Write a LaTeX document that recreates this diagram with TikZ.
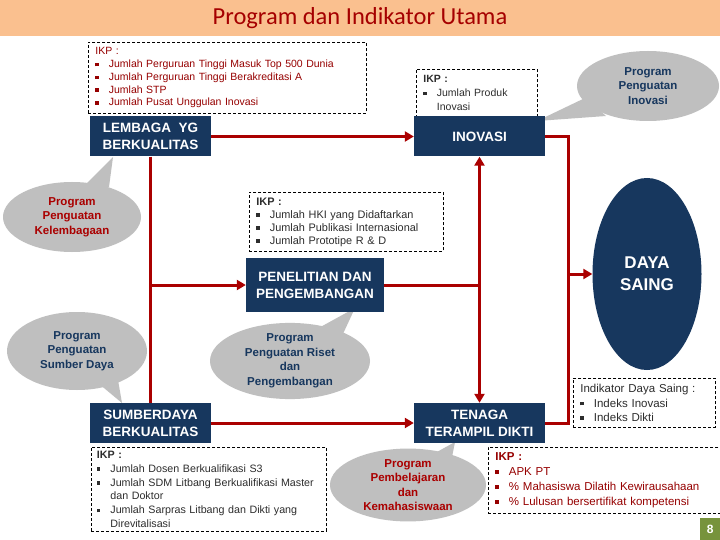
\documentclass[tikz,border=0pt]{standalone}
\usepackage{fontspec}
\setmainfont{Liberation Sans}
\newfontfamily\titlefont{Carlito}
\usetikzlibrary{shapes.geometric,arrows.meta,calc}
\definecolor{navy}{RGB}{23,55,94}
\definecolor{linered}{RGB}{170,0,0}
\definecolor{txtred}{RGB}{150,0,0}
\definecolor{callred}{RGB}{170,0,0}
\definecolor{calloutgray}{RGB}{191,191,191}
\definecolor{peach}{RGB}{250,192,143}
\definecolor{titlered}{RGB}{165,0,0}
\definecolor{txtgray}{RGB}{45,45,45}
\definecolor{pagegreen}{RGB}{119,147,60}
\newcommand\sqb{\makebox[13.5pt][l]{\raisebox{0.25ex}{\rule{0.32em}{0.32em}}}}
\newcommand\hangin{\hspace*{13.5pt}}
\begin{document}
\begin{tikzpicture}[x=1pt,y=-1pt,
  mainbox/.style={rectangle, fill=navy, text=white, font=\bfseries\fontsize{13.5}{17}\selectfont, align=center, inner sep=0pt},
  ikp/.style={draw=black, dash pattern=on 3pt off 2pt, line width=0.8pt, rectangle, anchor=north west, inner xsep=7pt, inner ysep=1pt, align=left},
  conn/.style={draw=linered, line width=3pt, line join=miter},
  arr/.style={conn, -{Triangle[length=9pt,width=10pt]}},
  callout/.style={ellipse, fill=calloutgray, inner sep=0pt, align=center, font=\bfseries\fontsize{11.5}{14.5}\selectfont},
  tail/.style={fill=calloutgray}
]
\useasboundingbox (0,0) rectangle (720,540);
\fill[white] (0,0) rectangle (720,540);

% title bar
\node[fill=peach, minimum width=720pt, minimum height=36pt, anchor=north west, inner sep=0pt] (bar) at (0,0) {};
\node[font=\titlefont\fontsize{24.5}{28}\selectfont, text=titlered] (title) at (360,18) {Program dan Indikator Utama};

% callouts (tails first)
\fill[tail] (113,157) -- (83,187) -- (109,187) -- cycle;
\node[callout, text=callred, minimum width=138pt, minimum height=70pt] (cK) at (72,217) {Program\\Penguatan\\Kelembagaan};

\fill[tail] (537,121) -- (585,98) -- (606,116) -- cycle;
\node[callout, text=navy, minimum width=142pt, minimum height=70pt] (cI) at (648,86) {Program\\Penguatan\\Inovasi};

\fill[tail] (122,403) -- (98,383) -- (118,380) -- cycle;
\node[callout, text=navy, minimum width=140pt, minimum height=78pt] (cS) at (77,351) {Program\\Penguatan\\Sumber Daya};

\fill[tail] (355,308) -- (315,330) -- (342,336) -- cycle;
\node[callout, text=navy, minimum width=160pt, minimum height=72pt] (cR) at (290,361) {Program\\Penguatan Riset\\dan\\Pengembangan};

\fill[tail] (455,442) -- (426,458) -- (451,462) -- cycle;
\node[callout, text=callred, minimum width=156pt, minimum height=72pt] (cP) at (408,485) {Program\\Pembelajaran\\dan\\Kemahasiswaan};

% IKP boxes
\node[ikp, text=txtred, text width=264pt, minimum height=71pt, font=\fontsize{10.5}{12.75}\selectfont] (k1) at (88,42)
 {IKP :\\\sqb Jumlah Perguruan Tinggi Masuk Top 500 Dunia\\\sqb Jumlah Perguruan Tinggi Berakreditasi A\\\sqb Jumlah STP\\\sqb Jumlah Pusat Unggulan Inovasi};

\node[ikp, text=txtgray, text width=107pt, minimum height=47pt, font=\fontsize{10.5}{14}\selectfont] (k2) at (416,69)
 {\textbf{IKP :}\\\sqb Jumlah Produk\\\hangin Inovasi};

\node[ikp, text=txtgray, text width=180pt, minimum height=59pt, font=\fontsize{10.9}{13}\selectfont] (k3) at (249,192)
 {\textbf{IKP :}\\\sqb Jumlah HKI yang Didaftarkan\\\sqb Jumlah Publikasi Internasional\\\sqb Jumlah Prototipe R \& D};

\node[ikp, text=txtgray, inner xsep=5.5pt, text width=224pt, minimum height=84pt, font=\fontsize{10.7}{13.8}\selectfont] (k4) at (91,447)
 {\textbf{IKP :}\\\sqb Jumlah Dosen Berkualifikasi S3\\\sqb Jumlah SDM Litbang Berkualifikasi Master\\\hangin dan Doktor\\\sqb Jumlah Sarpras Litbang dan Dikti yang\\\hangin Direvitalisasi};

\node[ikp, text=txtgray, text width=128pt, minimum height=49pt, font=\fontsize{11.5}{14.5}\selectfont] (k5) at (573,378)
 {Indikator Daya Saing :\\\sqb Indeks Inovasi\\\sqb Indeks Dikti};

\node[ikp, text=txtred, text width=218pt, minimum height=66pt, font=\fontsize{11.5}{15}\selectfont] (k6) at (488,447)
 {\textbf{IKP :}\\\sqb APK PT\\\sqb \% Mahasiswa Dilatih Kewirausahaan\\\sqb \% Lulusan bersertifikat kompetensi};

% main boxes
\node[mainbox, minimum width=121pt, minimum height=40pt] (lem) at (150.5,136.5) {LEMBAGA\ \ YG\\BERKUALITAS};
\node[mainbox, minimum width=131pt, minimum height=40pt] (ino) at (479.5,136.5) {INOVASI};
\node[mainbox, minimum width=138pt, minimum height=54pt] (pen) at (315,285) {PENELITIAN DAN\\PENGEMBANGAN};
\node[mainbox, minimum width=121pt, minimum height=40pt] (sdm) at (150.5,423) {SUMBERDAYA\\BERKUALITAS};
\node[mainbox, minimum width=131pt, minimum height=40pt] (ten) at (479.5,423) {TENAGA\\TERAMPIL DIKTI};
\node[ellipse, fill=navy, text=white, inner sep=0pt, minimum width=109pt, minimum height=192pt, align=center, font=\bfseries\fontsize{17}{22}\selectfont] (daya) at (647,274) {DAYA\\SAING};

% connectors
\draw[arr] (lem.east) -- (ino.west);
\draw[conn] (lem.south) -- (sdm.north);
\draw[arr] (lem.south |- pen.west) -- (pen.west);
\coordinate (jn) at (ino.south |- pen.east);
\draw[conn] (pen.east) -- (jn);
\draw[arr] (jn) -- (ino.south);
\draw[arr] (jn) -- (ten.north);
\draw[arr] (sdm.east) -- (ten.west);
\coordinate (rt) at ($(ino.east)+(23,0)$);
\draw[conn] (ino.east) -- (rt) |- (ten.east);
\draw[arr] (rt |- daya.west) -- (daya.west);

% page number
\node[fill=pagegreen, text=white, font=\bfseries\fontsize{12}{14}\selectfont, minimum width=20pt, minimum height=22pt, inner sep=0pt, anchor=north west] (pg) at (700,518) {8};
\end{tikzpicture}
\end{document}
